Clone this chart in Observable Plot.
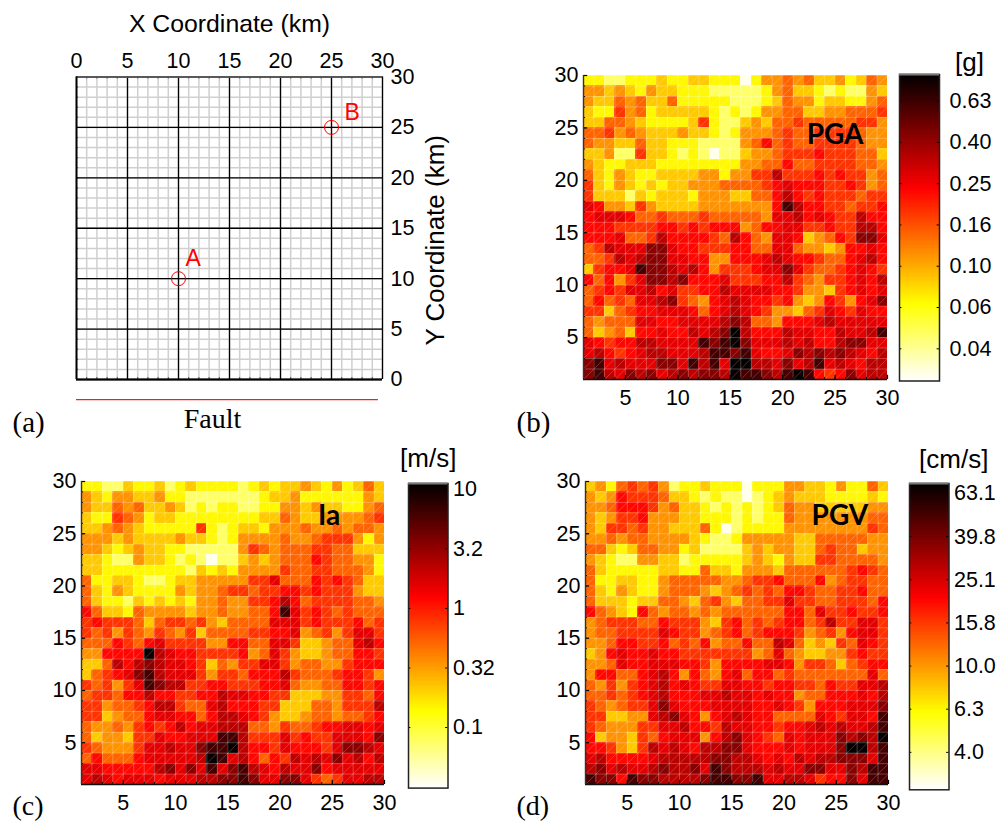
<!DOCTYPE html>
<html><head><meta charset="utf-8">
<script src="https://cdn.jsdelivr.net/npm/d3@7"></script>
<script src="https://cdn.jsdelivr.net/npm/@observablehq/plot@0.6"></script>
<style>
html,body{margin:0;padding:0;background:#fff}
#page{position:relative;width:997px;height:821px;overflow:hidden}
#page svg{position:absolute;overflow:visible}
</style></head><body><div id="page"></div>
<script>
// Readings of each cell, top row (y 29-30) to bottom row (y 1-2), in colour-bar steps 0..c
const pgaRows = [
"22112 22322 33222 02445 45334 2354","44343 24332 22111 11245 33212 1143","43354 53352 22221 11235 44233 2245",
"32264 52333 33212 12445 53344 5556","33554 32222 36211 34355 65555 5664","55645 43334 33212 44456 55666 6544",
"54433 53322 21111 45756 55666 6544","33411 63321 21011 34456 66766 6553","43223 33222 22222 44557 55666 6554",
"53243 22333 34424 46696 66767 6645","63243 23233 44455 55678 77766 7645","63331 32333 24443 35579 76766 6566",
"87443 64333 34444 4447b 97766 5667","78887 55655 56555 55488 97876 6977","77766 66776 76777 45778 86676 6997",
"77785 56977 77659 75488 73457 6aa8","56988 8aa87 76667 75588 54434 7787","55698 9aa88 77447 77898 77655 7897",
"36778 baa98 97466 6788a 86556 7876","75746 8aa9a 77786 66779 65466 7879","56768 89786 67798 88877 64436 7878",
"57565 889a6 54789 87767 43476 478a","66356 77888 75789 87644 35687 6877","54555 88778 8889a 95547 77898 8888",
"53453 77877 989ac 97779 88779 889b","87677 99888 8babc a8889 89779 aa88","89767 89988 89bba b8778 a9a9a 9879",
"ab898 88aa8 b9b8c c998a 89b89 8799","ab98a 9a89a 9aa9c bba9b cb767 a899"];
const iaRows = [
"22113 22312 32222 12323 34324 2353","43244 33422 11111 11233 42222 2243","43354 53343 12122 11224 43433 2245",
"32265 42332 22222 22335 43344 4456","33454 32222 26212 33244 45445 4554","44434 33334 33212 44445 44566 6424",
"44323 43322 11111 46545 55665 5333","33211 43321 21011 34345 55765 5442","33222 22222 13232 44446 55665 5542",
"52233 21123 34444 46685 55767 6533","53243 22224 34456 65667 76766 6433","53221 32323 24454 46679 75666 6554",
"75332 54444 34454 4557b 86765 6555","67666 53566 56435 55588 86766 6756","65646 54654 63555 56677 84564 6886",
"55576 57866 66447 75588 63345 5897","44777 7c987 76666 74586 43345 5776","33597 9a988 76354 66886 45544 6777",
"35678 ab988 86466 57779 65556 7764","65646 8ba99 66776 66778 54455 7767","56657 79776 67798 87766 33344 6657",
"66455 67996 55897 77663 33554 6669","66345 57887 75799 87643 34554 5567","54454 67679 78899 95546 55677 8878",
"53443 66877 888bb 96668 67668 887a","65444 68898 8abbc 97768 77768 aa98","57555 78888 89cb8 97576 9898a 8979",
"88777 779a8 a8b8a b9879 88a78 8888","89878 88788 899aa ba88a a8656 8899"];
const pgvRows = [
"34256 56412 23222 02224 43324 2253","43476 66533 21211 01234 33322 2232","44577 76453 32121 21235 44333 3344",
"43466 74443 32221 21225 44444 4455","43665 64433 35201 22224 44444 4465","44545 54444 32112 44444 33555 5544",
"55323 55442 31111 34344 33565 5344","43211 44331 22222 34324 33665 5554","53222 22332 25332 44435 55555 6765",
"52233 22455 55544 56675 55745 6655","53243 22455 54345 65657 76556 6755","53332 33554 35643 55668 66556 6657",
"75432 75455 45455 55557 75866 7667","45666 55766 64367 56567 75696 6886","45566 66876 64567 56777 64564 7886",
"44577 66756 57455 75598 53436 5876","34787 78776 66666 64585 43344 6766","44587 78887 76477 77887 46653 5677",
"47755 78974 75478 57756 55555 5585","54646 78978 76688 77677 66576 6889","55656 78977 78898 87877 45577 7879",
"65456 68a87 77888 87787 64777 888a","66334 489a8 74789 87755 55876 887b","65444 66889 77698 87767 78989 889b",
"73443 65788 8479a 87658 7888a 9a9c","77643 69898 799aa 87778 7888a cc9b","89777 78999 99aa9 98787 9899a aa8b",
"9a898 89a99 a8ba9 99898 8aa88 a9bb","baa7b aa999 9abba ab889 98677 a8bb"];

// position along the colour bar (0 bottom, 1 top) of each step
const stepFractions = {"0":.02,"1":.15,"2":.26,"3":.33,"4":.41,"5":.48,"6":.55,"7":.615,"8":.665,"9":.725,"a":.80,"b":.90,"c":.99};

const pgaDomain=[0.0278,0.849], iaDomain=[0.031,11.2], pgvDomain=[2.67,70.2];
const pgaTicks=[0.0398,0.0631,0.1,0.1585,0.2512,0.3981,0.631], pgaLabels=["0.04","0.06","0.10","0.16","0.25","0.40","0.63"];
const iaTicks=[0.1,0.3162,1,3.162,10], iaLabels=["0.1","0.32","1","3.2","10"];
const pgvTicks=[3.981,6.31,10,15.85,25.12,39.81,63.1], pgvLabels=["4.0","6.3","10.0","15.8","25.1","39.8","63.1"];
const kmTicks=[0,5,10,15,20,25,30], mapTicks=[5,10,15,20,25,30], unitTicks=d3.range(1,31), minorKm=d3.range(0,31);
const sites=[{x:10,y:10,name:"A",tx:11.44,ty:12},{x:25,y:25,name:"B",tx:27.03,ty:26.45}];

const hot=d3.scaleLinear().domain([0,.25,.625,1]).range(["#ffffff","#ffff00","#ff0000","#000000"]).clamp(true);
const hotT=t=>hot(t);
const SANS="'Liberation Sans',Arial,sans-serif", SERIF="'Liberation Serif',serif";
const TICK=21.5;
const page=document.getElementById("page");
function place(svg,left,top){svg.style.left=left+"px";svg.style.top=top+"px";page.appendChild(svg);}
const baseStyle={fontFamily:SANS,fontSize:"21px",background:"transparent",color:"#000"};

function cellsFrom(rows,domain){
  const [lo,hi]=domain,out=[];
  rows.forEach((row,r)=>{[...row.replace(/ /g,"")].forEach((ch,c)=>{
    out.push({x1:c+1,x2:c+2,y1:29-r,y2:30-r,value:lo*Math.pow(hi/lo,stepFractions[ch])});
  });});
  return out;
}

function heatPanel(cfg){
  const cells=cellsFrom(cfg.rows,cfg.domain);
  const svg=Plot.plot({
    width:cfg.w,height:cfg.h,marginLeft:cfg.ml,marginRight:cfg.mr,marginTop:cfg.mt,marginBottom:cfg.mb,
    style:baseStyle,
    x:{domain:[1,30],label:null},y:{domain:[1,30],label:null},
    color:{type:"log",domain:cfg.domain,interpolate:hotT,clamp:true,legend:false},
    marks:[
      Plot.rect(cells,{x1:"x1",x2:"x2",y1:"y1",y2:"y2",fill:"value",shapeRendering:"crispEdges"}),
      Plot.ruleX(unitTicks,{y1:1,y2:30,stroke:"#fff",strokeOpacity:.32,strokeWidth:.8}),
      Plot.ruleY(unitTicks,{x1:1,x2:30,stroke:"#fff",strokeOpacity:.32,strokeWidth:.8}),
      Plot.link(cells,{x1:"x1",y1:"y1",x2:"x2",y2:"y2",stroke:"#fff",strokeOpacity:.3,strokeWidth:.7}),
      Plot.ruleX(unitTicks,{y1:1,y2:1.2,stroke:"#000",strokeWidth:1}),
      Plot.ruleY(unitTicks,{x1:1,x2:1.2,stroke:"#000",strokeWidth:1}),
      Plot.ruleX(mapTicks,{y1:1,y2:1.4,stroke:"#000",strokeWidth:1.2}),
      Plot.ruleY(mapTicks,{x1:1,x2:1.4,stroke:"#000",strokeWidth:1.2}),
      Plot.ruleX([1],{stroke:"#333",strokeWidth:1.4}),
      Plot.ruleY([1],{stroke:"#111",strokeWidth:1.6}),
      Plot.axisX({anchor:"bottom",ticks:mapTicks,tickSize:0,tickPadding:10,label:null,fontSize:TICK}),
      Plot.axisY({anchor:"left",ticks:mapTicks,tickSize:0,tickPadding:5,label:null,fontSize:TICK}),
      Plot.text([cfg.name],{x:cfg.nx,y:cfg.ny,fontFamily:"Lato",fontWeight:"bold",fontSize:28,fill:"#000"}),
      Plot.text([cfg.tag],{frameAnchor:"bottom-left",dx:cfg.tagDx,dy:cfg.tagDy,lineAnchor:"middle",textAnchor:"start",fontFamily:SERIF,fontSize:cfg.tagSize})
    ]
  });
  place(svg,cfg.left,cfg.top);
}

function colorBar(cfg){
  const [lo,hi]=cfg.domain,n=240;
  const strips=d3.range(n).map(i=>({a:lo*Math.pow(hi/lo,i/n),b:lo*Math.pow(hi/lo,(i+1)/n),v:lo*Math.pow(hi/lo,(i+.5)/n)}));
  const svg=Plot.plot({
    width:cfg.w+cfg.mr+2,height:cfg.h+cfg.mt+3,marginLeft:2,marginRight:cfg.mr,marginTop:cfg.mt,marginBottom:3,
    style:baseStyle,
    x:{domain:[0,1],label:null,axis:null},y:{type:"log",domain:cfg.domain,label:null},
    color:{type:"log",domain:cfg.domain,interpolate:hotT,clamp:true,legend:false},
    marks:[
      Plot.rect(strips,{x1:0,x2:1,y1:"a",y2:"b",fill:"v",shapeRendering:"crispEdges"}),
      Plot.ruleY(cfg.ticks,{x1:0,x2:.06,stroke:"#000",strokeWidth:1}),
      Plot.ruleY(cfg.ticks,{x1:.94,x2:1,stroke:"#000",strokeWidth:1}),
      Plot.frame({stroke:"#222",strokeWidth:1.5}),
      Plot.ruleY([hi],{stroke:"#777",strokeWidth:2}),
      Plot.axisY({anchor:"right",ticks:cfg.ticks,tickFormat:(d,i)=>cfg.labels[cfg.ticks.indexOf(d)],tickSize:0,tickPadding:cfg.pad,label:null,fontSize:TICK}),
      Plot.text([cfg.unit],{frameAnchor:"top",dx:cfg.udx,dy:cfg.udy,lineAnchor:"middle",fontSize:26})
    ]
  });
  place(svg,cfg.left-2,cfg.top-cfg.mt);
}

// Panel (a): the site layout
(function(){
  const svg=Plot.plot({
    width:460,height:440,marginLeft:76,marginRight:78,marginTop:76.5,marginBottom:61,
    style:baseStyle,
    x:{domain:[0,30],label:null},y:{domain:[0,30],label:null},
    marks:[
      Plot.ruleX(minorKm,{y1:0,y2:30,stroke:"#cfcfcf",strokeWidth:1.5}),
      Plot.ruleY(minorKm,{x1:0,x2:30,stroke:"#cfcfcf",strokeWidth:1.5}),
      Plot.ruleX(minorKm,{y1:29.8,y2:30,stroke:"#555",strokeWidth:1}),
      Plot.ruleX(minorKm,{y1:0,y2:.2,stroke:"#555",strokeWidth:1}),
      Plot.ruleY(minorKm,{x1:0,x2:.2,stroke:"#555",strokeWidth:1}),
      Plot.ruleX(kmTicks,{y1:0,y2:30,stroke:"#000",strokeWidth:1.3}),
      Plot.ruleY(kmTicks,{x1:0,x2:30,stroke:"#000",strokeWidth:1.3}),
      Plot.ruleY([30],{x1:0,x2:30,stroke:"#666",strokeWidth:1.3}),
      Plot.ruleY([0],{x1:0,x2:30,stroke:"#000",strokeWidth:2.2}),
      Plot.ruleX([0],{y1:0,y2:30,stroke:"#000",strokeWidth:1.8}),
      Plot.axisX({anchor:"top",ticks:kmTicks,tickSize:0,tickPadding:9,label:null,fontSize:TICK}),
      Plot.axisY({anchor:"right",ticks:kmTicks,tickSize:0,tickPadding:8,label:null,fontSize:TICK}),
      Plot.dot(sites,{x:"x",y:"y",r:7,stroke:"#f00",strokeWidth:1,fill:"none"}),
      Plot.text(sites,{x:"tx",y:"ty",text:"name",fill:"#f00",fontSize:23}),
      Plot.ruleY([-2],{x1:0,x2:29.6,stroke:"#e22",strokeWidth:1.1}),
      Plot.text(["X Coordinate (km)"],{frameAnchor:"top",dy:-53,lineAnchor:"middle",fontSize:24.8}),
      Plot.text(["Y Coordinate (km)"],{frameAnchor:"right",rotate:-90,textAnchor:"middle",dx:53,dy:12,lineAnchor:"middle",fontSize:26}),
      Plot.text(["Fault"],{frameAnchor:"bottom",dx:-17,dy:40,lineAnchor:"middle",fontFamily:SERIF,fontSize:28}),
      Plot.text(["(a)"],{frameAnchor:"bottom-left",dx:-64,dy:43,lineAnchor:"middle",textAnchor:"start",fontFamily:SERIF,fontSize:29})
    ]
  });
  place(svg,0,0);
})();

heatPanel({rows:pgaRows,domain:pgaDomain,name:"PGA",nx:25,ny:24.3,tag:"(b)",tagDx:-67,tagDy:43,tagSize:29,
  left:510,top:40,w:390,h:400,ml:73,mr:13,mt:35,mb:61});
heatPanel({rows:iaRows,domain:iaDomain,name:"Ia",nx:24.7,ny:26.65,tag:"(c)",tagDx:-69,tagDy:21.5,tagSize:28,
  left:0,top:440,w:400,h:381,ml:81,mr:16,mt:41,mb:37});
heatPanel({rows:pgvRows,domain:pgvDomain,name:"PGV",nx:25.35,ny:26.65,tag:"(d)",tagDx:-69,tagDy:21.5,tagSize:28,
  left:500,top:440,w:400,h:381,ml:85,mr:12,mt:41,mb:37});

colorBar({domain:pgaDomain,ticks:pgaTicks,labels:pgaLabels,unit:"[g]",udx:50,udy:-12,pad:10,
  left:899,top:73.5,w:40,h:306.5,mr:56,mt:30});
colorBar({domain:iaDomain,ticks:iaTicks,labels:iaLabels,unit:"[m/s]",udx:0,udy:-25,pad:5,
  left:407.5,top:482.7,w:39.5,h:304.6,mr:50,mt:40});
colorBar({domain:pgvDomain,ticks:pgvTicks,labels:pgvLabels,unit:"[cm/s]",udx:24.5,udy:-24,pad:5,
  left:908.7,top:482.7,w:39.5,h:306.3,mr:46,mt:40});
</script></body></html>
